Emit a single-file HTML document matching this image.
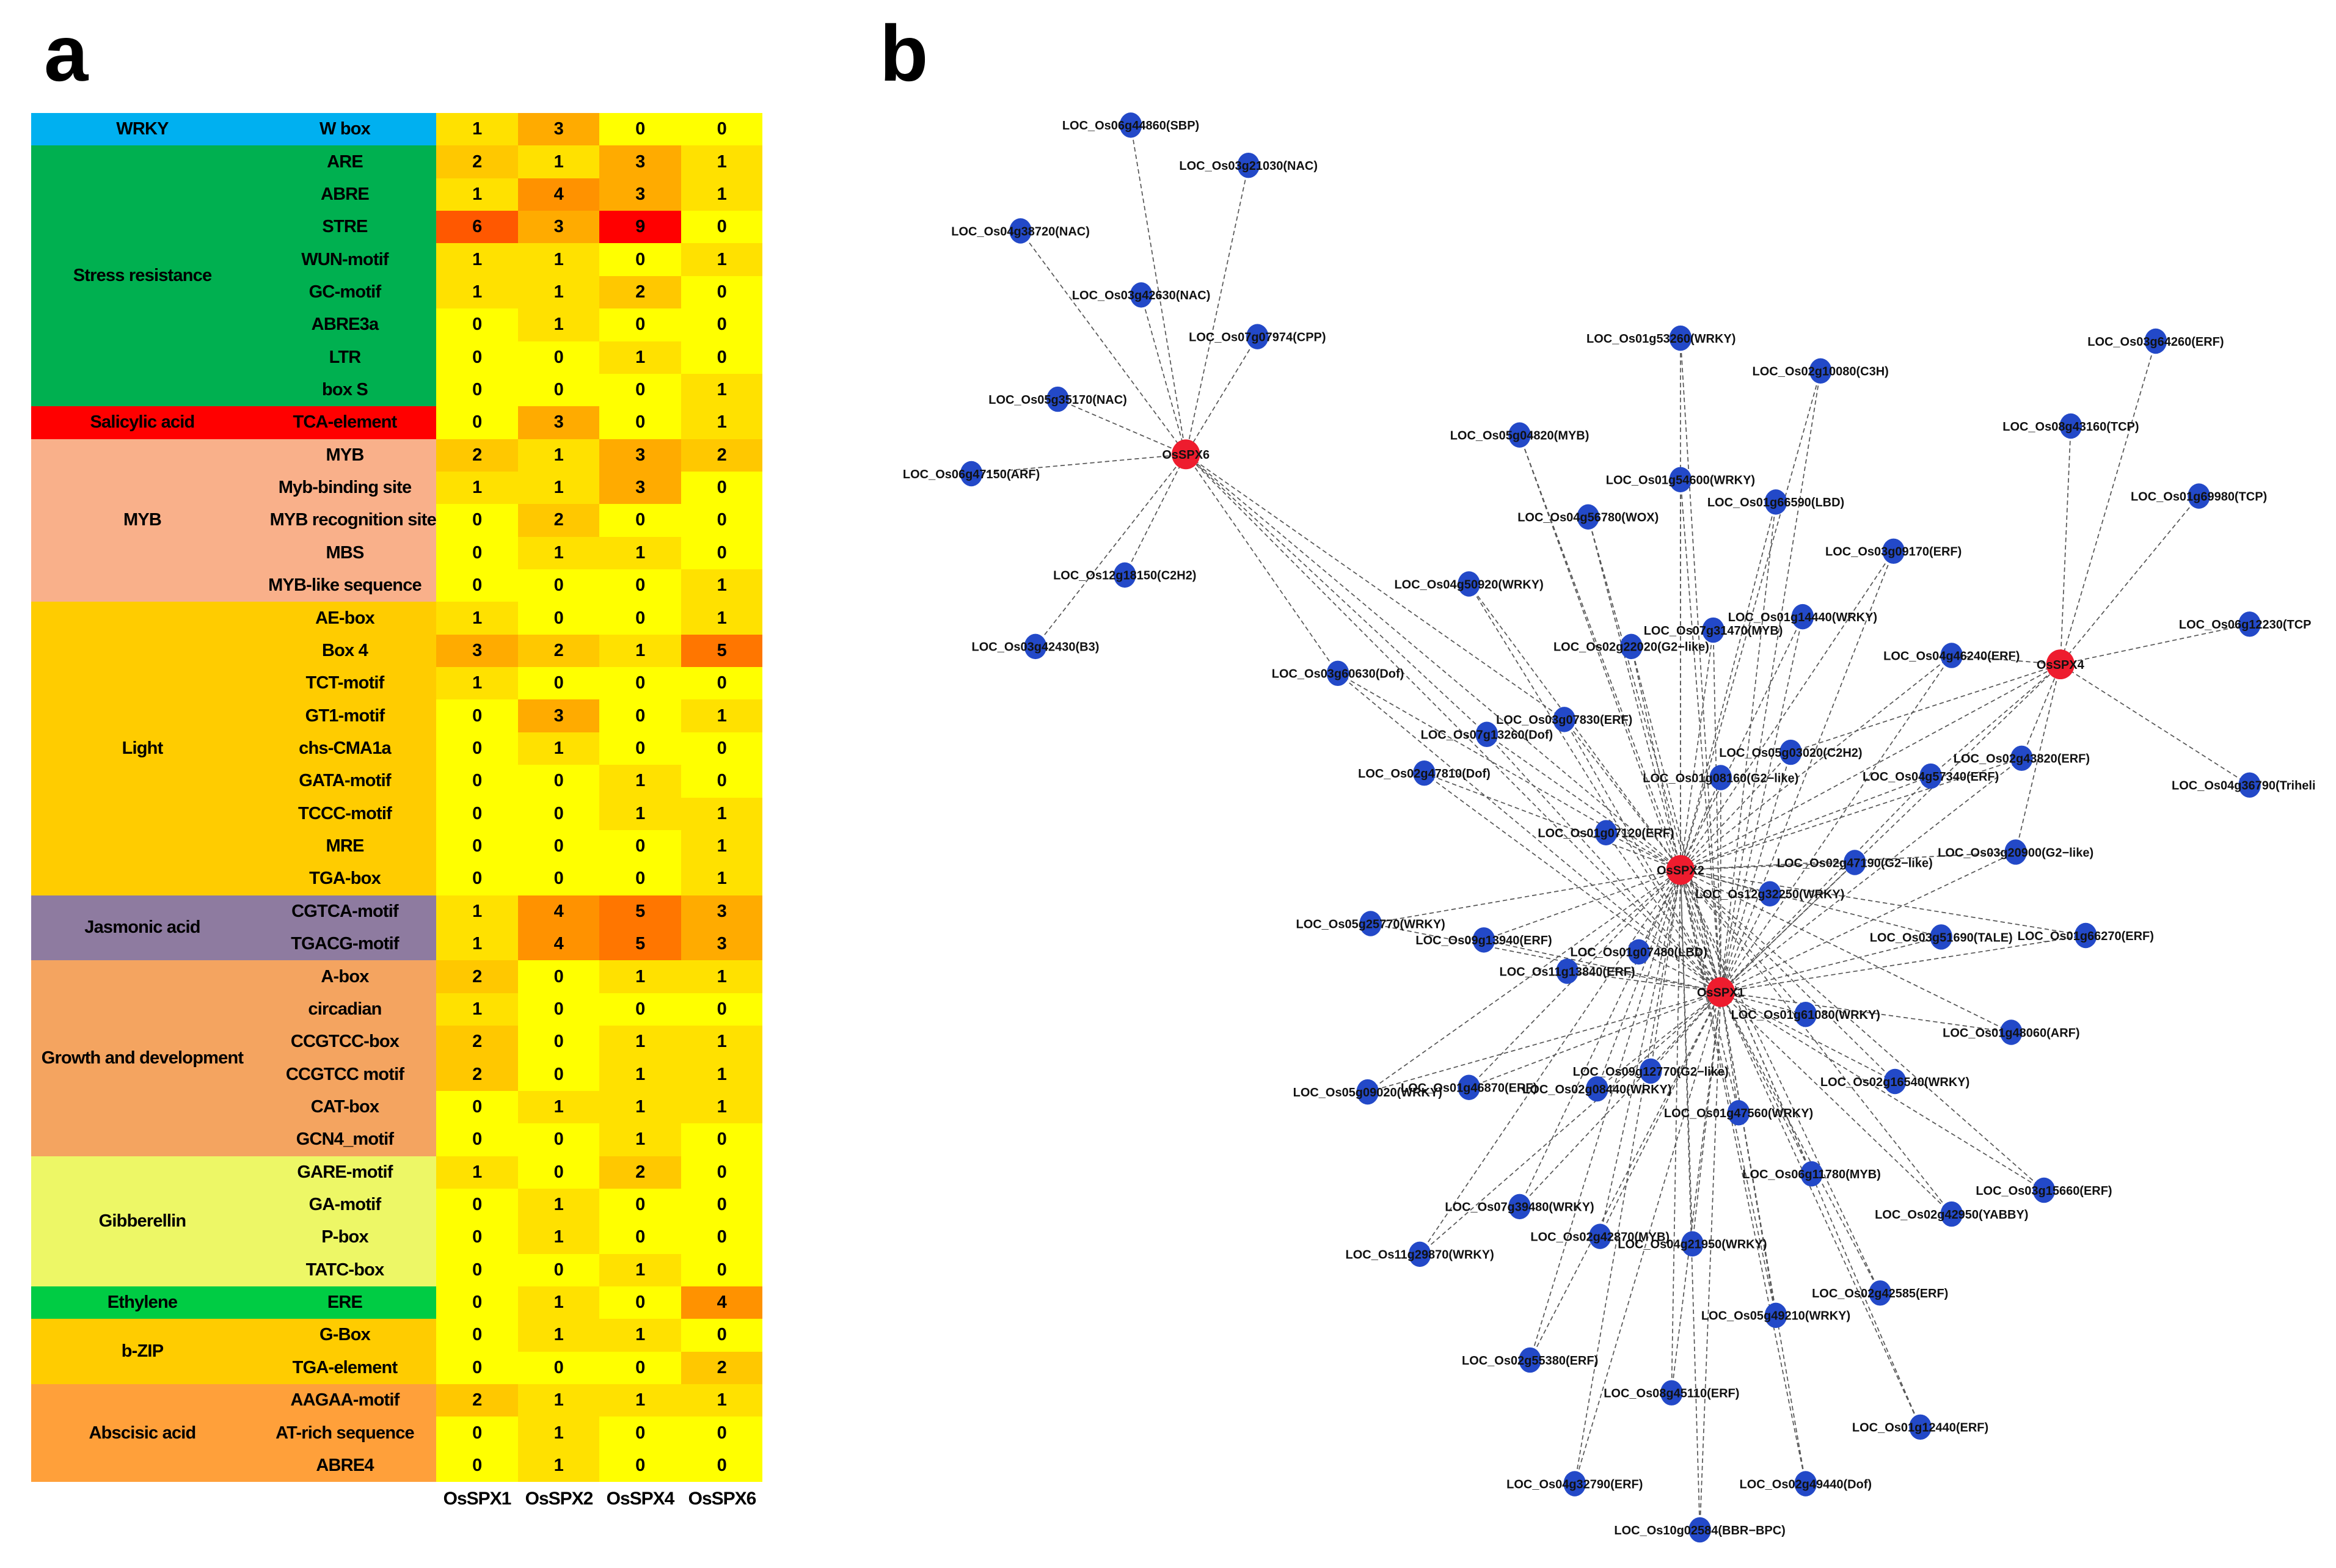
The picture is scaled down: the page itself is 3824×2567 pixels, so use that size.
<!DOCTYPE html>
<html><head><meta charset="utf-8"><style>
html,body{margin:0;padding:0;background:#fff}
body{width:3824px;height:2567px;position:relative;overflow:hidden;font-family:"Liberation Sans Narrow","Liberation Sans",sans-serif}
.big{position:absolute;font-family:"Liberation Sans",sans-serif;font-weight:bold;font-size:130px;line-height:1}
table{position:absolute;left:51px;top:185px;width:1197px;border-collapse:collapse;table-layout:fixed;font-weight:bold;font-size:29px;letter-spacing:-0.8px;color:#000}
td{height:53.37px;padding:0;text-align:center;white-space:nowrap;overflow:hidden;line-height:1}
.v0{background:#FFFF00}.v1{background:#FFE100}.v2{background:#FFC800}.v3{background:#FFAB00}.v4{background:#FF9200}.v5{background:#FF7600}.v6{background:#FF5800}.v9{background:#FF0000}
.wr{background:#00B0F0}.st{background:#00B050}.sa{background:#FF0000}.my{background:#F9B08A}.li{background:#FFCC00}.ja{background:#8E7BA0}.gr{background:#F4A460}.gi{background:#EDF766}.et{background:#00CC44}.bz{background:#FFCC00}.ab{background:#FFA03A}
.foot{position:absolute;top:2437px;font-weight:bold;font-size:30px;letter-spacing:-1px;width:134px;text-align:center}
svg{position:absolute;left:0;top:0}
</style></head><body>
<div class="big" style="left:72px;top:22px">a</div>
<div class="big" style="left:1440px;top:22px">b</div>
<table>
<colgroup><col style="width:364px"><col style="width:299px"><col style="width:133.5px"><col style="width:133.5px"><col style="width:133.5px"><col style="width:133.5px"></colgroup>
<tr><td class="wr">WRKY</td><td class="wr">W box</td><td class="v1">1</td><td class="v3">3</td><td class="v0">0</td><td class="v0">0</td></tr>
<tr><td class="st" rowspan="8">Stress resistance</td><td class="st">ARE</td><td class="v2">2</td><td class="v1">1</td><td class="v3">3</td><td class="v1">1</td></tr>
<tr><td class="st">ABRE</td><td class="v1">1</td><td class="v4">4</td><td class="v3">3</td><td class="v1">1</td></tr>
<tr><td class="st">STRE</td><td class="v6">6</td><td class="v3">3</td><td class="v9">9</td><td class="v0">0</td></tr>
<tr><td class="st">WUN-motif</td><td class="v1">1</td><td class="v1">1</td><td class="v0">0</td><td class="v1">1</td></tr>
<tr><td class="st">GC-motif</td><td class="v1">1</td><td class="v1">1</td><td class="v2">2</td><td class="v0">0</td></tr>
<tr><td class="st">ABRE3a</td><td class="v0">0</td><td class="v1">1</td><td class="v0">0</td><td class="v0">0</td></tr>
<tr><td class="st">LTR</td><td class="v0">0</td><td class="v0">0</td><td class="v1">1</td><td class="v0">0</td></tr>
<tr><td class="st">box S</td><td class="v0">0</td><td class="v0">0</td><td class="v0">0</td><td class="v1">1</td></tr>
<tr><td class="sa">Salicylic acid</td><td class="sa">TCA-element</td><td class="v0">0</td><td class="v3">3</td><td class="v0">0</td><td class="v1">1</td></tr>
<tr><td class="my" rowspan="5">MYB</td><td class="my">MYB</td><td class="v2">2</td><td class="v1">1</td><td class="v3">3</td><td class="v2">2</td></tr>
<tr><td class="my">Myb-binding site</td><td class="v1">1</td><td class="v1">1</td><td class="v3">3</td><td class="v0">0</td></tr>
<tr><td class="my" style="text-align:right">MYB recognition site</td><td class="v0">0</td><td class="v2">2</td><td class="v0">0</td><td class="v0">0</td></tr>
<tr><td class="my">MBS</td><td class="v0">0</td><td class="v1">1</td><td class="v1">1</td><td class="v0">0</td></tr>
<tr><td class="my">MYB-like sequence</td><td class="v0">0</td><td class="v0">0</td><td class="v0">0</td><td class="v1">1</td></tr>
<tr><td class="li" rowspan="9">Light</td><td class="li">AE-box</td><td class="v1">1</td><td class="v0">0</td><td class="v0">0</td><td class="v1">1</td></tr>
<tr><td class="li">Box 4</td><td class="v3">3</td><td class="v2">2</td><td class="v1">1</td><td class="v5">5</td></tr>
<tr><td class="li">TCT-motif</td><td class="v1">1</td><td class="v0">0</td><td class="v0">0</td><td class="v0">0</td></tr>
<tr><td class="li">GT1-motif</td><td class="v0">0</td><td class="v3">3</td><td class="v0">0</td><td class="v1">1</td></tr>
<tr><td class="li">chs-CMA1a</td><td class="v0">0</td><td class="v1">1</td><td class="v0">0</td><td class="v0">0</td></tr>
<tr><td class="li">GATA-motif</td><td class="v0">0</td><td class="v0">0</td><td class="v1">1</td><td class="v0">0</td></tr>
<tr><td class="li">TCCC-motif</td><td class="v0">0</td><td class="v0">0</td><td class="v1">1</td><td class="v1">1</td></tr>
<tr><td class="li">MRE</td><td class="v0">0</td><td class="v0">0</td><td class="v0">0</td><td class="v1">1</td></tr>
<tr><td class="li">TGA-box</td><td class="v0">0</td><td class="v0">0</td><td class="v0">0</td><td class="v1">1</td></tr>
<tr><td class="ja" rowspan="2">Jasmonic acid</td><td class="ja">CGTCA-motif</td><td class="v1">1</td><td class="v4">4</td><td class="v5">5</td><td class="v3">3</td></tr>
<tr><td class="ja">TGACG-motif</td><td class="v1">1</td><td class="v4">4</td><td class="v5">5</td><td class="v3">3</td></tr>
<tr><td class="gr" rowspan="6">Growth and development</td><td class="gr">A-box</td><td class="v2">2</td><td class="v0">0</td><td class="v1">1</td><td class="v1">1</td></tr>
<tr><td class="gr">circadian</td><td class="v1">1</td><td class="v0">0</td><td class="v0">0</td><td class="v0">0</td></tr>
<tr><td class="gr">CCGTCC-box</td><td class="v2">2</td><td class="v0">0</td><td class="v1">1</td><td class="v1">1</td></tr>
<tr><td class="gr">CCGTCC motif</td><td class="v2">2</td><td class="v0">0</td><td class="v1">1</td><td class="v1">1</td></tr>
<tr><td class="gr">CAT-box</td><td class="v0">0</td><td class="v1">1</td><td class="v1">1</td><td class="v1">1</td></tr>
<tr><td class="gr">GCN4_motif</td><td class="v0">0</td><td class="v0">0</td><td class="v1">1</td><td class="v0">0</td></tr>
<tr><td class="gi" rowspan="4">Gibberellin</td><td class="gi">GARE-motif</td><td class="v1">1</td><td class="v0">0</td><td class="v2">2</td><td class="v0">0</td></tr>
<tr><td class="gi">GA-motif</td><td class="v0">0</td><td class="v1">1</td><td class="v0">0</td><td class="v0">0</td></tr>
<tr><td class="gi">P-box</td><td class="v0">0</td><td class="v1">1</td><td class="v0">0</td><td class="v0">0</td></tr>
<tr><td class="gi">TATC-box</td><td class="v0">0</td><td class="v0">0</td><td class="v1">1</td><td class="v0">0</td></tr>
<tr><td class="et">Ethylene</td><td class="et">ERE</td><td class="v0">0</td><td class="v1">1</td><td class="v0">0</td><td class="v4">4</td></tr>
<tr><td class="bz" rowspan="2">b-ZIP</td><td class="bz">G-Box</td><td class="v0">0</td><td class="v1">1</td><td class="v1">1</td><td class="v0">0</td></tr>
<tr><td class="bz">TGA-element</td><td class="v0">0</td><td class="v0">0</td><td class="v0">0</td><td class="v2">2</td></tr>
<tr><td class="ab" rowspan="3">Abscisic acid</td><td class="ab">AAGAA-motif</td><td class="v2">2</td><td class="v1">1</td><td class="v1">1</td><td class="v1">1</td></tr>
<tr><td class="ab">AT-rich sequence</td><td class="v0">0</td><td class="v1">1</td><td class="v0">0</td><td class="v0">0</td></tr>
<tr><td class="ab">ABRE4</td><td class="v0">0</td><td class="v1">1</td><td class="v0">0</td><td class="v0">0</td></tr>
</table>
<div class="foot" style="left:714px">OsSPX1</div>
<div class="foot" style="left:848px">OsSPX2</div>
<div class="foot" style="left:981px">OsSPX4</div>
<div class="foot" style="left:1115px">OsSPX6</div>

<svg width="3824" height="2567" viewBox="0 0 1568 1052.6" xmlns="http://www.w3.org/2000/svg">
<g id="edges" stroke="#555" stroke-width="0.7" stroke-dasharray="3,2" fill="none"></g>
<g id="nodes" font-family="Liberation Sans Narrow, Liberation Sans, sans-serif" font-weight="bold" font-size="8.2" text-anchor="middle" fill="#111">
<g class="n h6" transform="translate(759,84)"><ellipse rx="7.5" ry="8.5" fill="#2349C8"/><text y="3">LOC_Os06g44860(SBP)</text></g>
<g class="n h6" transform="translate(838,111)"><ellipse rx="7.5" ry="8.5" fill="#2349C8"/><text y="3">LOC_Os03g21030(NAC)</text></g>
<g class="n h6" transform="translate(685,155)"><ellipse rx="7.5" ry="8.5" fill="#2349C8"/><text y="3">LOC_Os04g38720(NAC)</text></g>
<g class="n h6" transform="translate(766,198)"><ellipse rx="7.5" ry="8.5" fill="#2349C8"/><text y="3">LOC_Os03g42630(NAC)</text></g>
<g class="n h6" transform="translate(844,226)"><ellipse rx="7.5" ry="8.5" fill="#2349C8"/><text y="3">LOC_Os07g07974(CPP)</text></g>
<g class="n h6" transform="translate(710,268)"><ellipse rx="7.5" ry="8.5" fill="#2349C8"/><text y="3">LOC_Os05g35170(NAC)</text></g>
<g class="n h6" transform="translate(652,318)"><ellipse rx="7.5" ry="8.5" fill="#2349C8"/><text y="3">LOC_Os06g47150(ARF)</text></g>
<g class="n h6" transform="translate(755,386)"><ellipse rx="7.5" ry="8.5" fill="#2349C8"/><text y="3">LOC_Os12g18150(C2H2)</text></g>
<g class="n h6" transform="translate(695,434)"><ellipse rx="7.5" ry="8.5" fill="#2349C8"/><text y="3">LOC_Os03g42430(B3)</text></g>
<g class="n h6 h2 h1" transform="translate(898,452)"><ellipse rx="7.5" ry="8.5" fill="#2349C8"/><text y="3">LOC_Os03g60630(Dof)</text></g>
<g class="n h2 h1" transform="translate(1128,227)"><ellipse rx="7.5" ry="8.5" fill="#2349C8"/><text x="-13" y="3">LOC_Os01g53260(WRKY)</text></g>
<g class="n h2 h1" transform="translate(1222,249)"><ellipse rx="7.5" ry="8.5" fill="#2349C8"/><text y="3">LOC_Os02g10080(C3H)</text></g>
<g class="n h4" transform="translate(1447,229)"><ellipse rx="7.5" ry="8.5" fill="#2349C8"/><text y="3">LOC_Os03g64260(ERF)</text></g>
<g class="n h4" transform="translate(1390,286)"><ellipse rx="7.5" ry="8.5" fill="#2349C8"/><text y="3">LOC_Os08g43160(TCP)</text></g>
<g class="n h2 h1" transform="translate(1020,292)"><ellipse rx="7.5" ry="8.5" fill="#2349C8"/><text y="3">LOC_Os05g04820(MYB)</text></g>
<g class="n h2 h1" transform="translate(1128,322)"><ellipse rx="7.5" ry="8.5" fill="#2349C8"/><text y="3">LOC_Os01g54600(WRKY)</text></g>
<g class="n h2 h1" transform="translate(1192,337)"><ellipse rx="7.5" ry="8.5" fill="#2349C8"/><text y="3">LOC_Os01g66590(LBD)</text></g>
<g class="n h4" transform="translate(1476,333)"><ellipse rx="7.5" ry="8.5" fill="#2349C8"/><text y="3">LOC_Os01g69980(TCP)</text></g>
<g class="n h2 h1" transform="translate(1066,347)"><ellipse rx="7.5" ry="8.5" fill="#2349C8"/><text y="3">LOC_Os04g56780(WOX)</text></g>
<g class="n h2 h1" transform="translate(1271,370)"><ellipse rx="7.5" ry="8.5" fill="#2349C8"/><text y="3">LOC_Os03g09170(ERF)</text></g>
<g class="n h2 h1" transform="translate(986,392)"><ellipse rx="7.5" ry="8.5" fill="#2349C8"/><text y="3">LOC_Os04g50920(WRKY)</text></g>
<g class="n h2 h1" transform="translate(1150,423)"><ellipse rx="7.5" ry="8.5" fill="#2349C8"/><text y="3">LOC_Os07g31470(MYB)</text></g>
<g class="n h2 h1" transform="translate(1210,414)"><ellipse rx="7.5" ry="8.5" fill="#2349C8"/><text y="3">LOC_Os01g14440(WRKY)</text></g>
<g class="n h2 h1" transform="translate(1095,434)"><ellipse rx="7.5" ry="8.5" fill="#2349C8"/><text y="3">LOC_Os02g22020(G2−like)</text></g>
<g class="n h4" transform="translate(1510,419)"><ellipse rx="7.5" ry="8.5" fill="#2349C8"/><text x="-3" y="3">LOC_Os06g12230(TCP</text></g>
<g class="n h4 h2 h1" transform="translate(1310,440)"><ellipse rx="7.5" ry="8.5" fill="#2349C8"/><text y="3">LOC_Os04g46240(ERF)</text></g>
<g class="n h2 h1 h6" transform="translate(1050,483)"><ellipse rx="7.5" ry="8.5" fill="#2349C8"/><text y="3">LOC_Os03g07830(ERF)</text></g>
<g class="n h2 h1 h6" transform="translate(998,493)"><ellipse rx="7.5" ry="8.5" fill="#2349C8"/><text y="3">LOC_Os07g13260(Dof)</text></g>
<g class="n h4 h2 h1" transform="translate(1202,505)"><ellipse rx="7.5" ry="8.5" fill="#2349C8"/><text y="3">LOC_Os05g03020(C2H2)</text></g>
<g class="n h4 h2 h1" transform="translate(1357,509)"><ellipse rx="7.5" ry="8.5" fill="#2349C8"/><text y="3">LOC_Os02g43820(ERF)</text></g>
<g class="n h4" transform="translate(1510,527)"><ellipse rx="7.5" ry="8.5" fill="#2349C8"/><text x="-4" y="3">LOC_Os04g36790(Triheli</text></g>
<g class="n h2 h1" transform="translate(956,519)"><ellipse rx="7.5" ry="8.5" fill="#2349C8"/><text y="3">LOC_Os02g47810(Dof)</text></g>
<g class="n h2 h1" transform="translate(1155,522)"><ellipse rx="7.5" ry="8.5" fill="#2349C8"/><text y="3">LOC_Os01g08160(G2−like)</text></g>
<g class="n h4 h2 h1" transform="translate(1296,521)"><ellipse rx="7.5" ry="8.5" fill="#2349C8"/><text y="3">LOC_Os04g57340(ERF)</text></g>
<g class="n h2 h1" transform="translate(1078,559)"><ellipse rx="7.5" ry="8.5" fill="#2349C8"/><text y="3">LOC_Os01g07120(ERF)</text></g>
<g class="n h4 h2 h1" transform="translate(1353,572)"><ellipse rx="7.5" ry="8.5" fill="#2349C8"/><text y="3">LOC_Os03g20900(G2−like)</text></g>
<g class="n h2 h1" transform="translate(1245,579)"><ellipse rx="7.5" ry="8.5" fill="#2349C8"/><text y="3">LOC_Os02g47190(G2−like)</text></g>
<g class="n h2 h1" transform="translate(1188,600)"><ellipse rx="7.5" ry="8.5" fill="#2349C8"/><text y="3">LOC_Os12g32250(WRKY)</text></g>
<g class="n h2 h1" transform="translate(920,620)"><ellipse rx="7.5" ry="8.5" fill="#2349C8"/><text y="3">LOC_Os05g25770(WRKY)</text></g>
<g class="n h2 h1" transform="translate(1303,629)"><ellipse rx="7.5" ry="8.5" fill="#2349C8"/><text y="3">LOC_Os03g51690(TALE)</text></g>
<g class="n h2 h1" transform="translate(1400,628)"><ellipse rx="7.5" ry="8.5" fill="#2349C8"/><text y="3">LOC_Os01g66270(ERF)</text></g>
<g class="n h2 h1" transform="translate(996,631)"><ellipse rx="7.5" ry="8.5" fill="#2349C8"/><text y="3">LOC_Os09g13940(ERF)</text></g>
<g class="n h2 h1" transform="translate(1100,639)"><ellipse rx="7.5" ry="8.5" fill="#2349C8"/><text y="3">LOC_Os01g07480(LBD)</text></g>
<g class="n h2 h1" transform="translate(1052,652)"><ellipse rx="7.5" ry="8.5" fill="#2349C8"/><text y="3">LOC_Os11g13840(ERF)</text></g>
<g class="n h2 h1" transform="translate(1212,681)"><ellipse rx="7.5" ry="8.5" fill="#2349C8"/><text y="3">LOC_Os01g61080(WRKY)</text></g>
<g class="n h2 h1" transform="translate(1350,693)"><ellipse rx="7.5" ry="8.5" fill="#2349C8"/><text y="3">LOC_Os01g48060(ARF)</text></g>
<g class="n h2 h1" transform="translate(986,730)"><ellipse rx="7.5" ry="8.5" fill="#2349C8"/><text y="3">LOC_Os01g46870(ERF)</text></g>
<g class="n h2 h1" transform="translate(918,733)"><ellipse rx="7.5" ry="8.5" fill="#2349C8"/><text y="3">LOC_Os05g09020(WRKY)</text></g>
<g class="n h2 h1" transform="translate(1108,719)"><ellipse rx="7.5" ry="8.5" fill="#2349C8"/><text y="3">LOC_Os09g12770(G2−like)</text></g>
<g class="n h2 h1" transform="translate(1072,731)"><ellipse rx="7.5" ry="8.5" fill="#2349C8"/><text y="3">LOC_Os02g08440(WRKY)</text></g>
<g class="n h2 h1" transform="translate(1272,726)"><ellipse rx="7.5" ry="8.5" fill="#2349C8"/><text y="3">LOC_Os02g16540(WRKY)</text></g>
<g class="n h2 h1" transform="translate(1167,747)"><ellipse rx="7.5" ry="8.5" fill="#2349C8"/><text y="3">LOC_Os01g47560(WRKY)</text></g>
<g class="n h2 h1" transform="translate(1216,788)"><ellipse rx="7.5" ry="8.5" fill="#2349C8"/><text y="3">LOC_Os06g11780(MYB)</text></g>
<g class="n h2 h1" transform="translate(1372,799)"><ellipse rx="7.5" ry="8.5" fill="#2349C8"/><text y="3">LOC_Os03g15660(ERF)</text></g>
<g class="n h2 h1" transform="translate(1310,815)"><ellipse rx="7.5" ry="8.5" fill="#2349C8"/><text y="3">LOC_Os02g42950(YABBY)</text></g>
<g class="n h2 h1" transform="translate(1020,810)"><ellipse rx="7.5" ry="8.5" fill="#2349C8"/><text y="3">LOC_Os07g39480(WRKY)</text></g>
<g class="n h2 h1" transform="translate(1074,830)"><ellipse rx="7.5" ry="8.5" fill="#2349C8"/><text y="3">LOC_Os02g42870(MYB)</text></g>
<g class="n h2 h1" transform="translate(1136,835)"><ellipse rx="7.5" ry="8.5" fill="#2349C8"/><text y="3">LOC_Os04g21950(WRKY)</text></g>
<g class="n h2 h1" transform="translate(953,842)"><ellipse rx="7.5" ry="8.5" fill="#2349C8"/><text y="3">LOC_Os11g29870(WRKY)</text></g>
<g class="n h2 h1" transform="translate(1262,868)"><ellipse rx="7.5" ry="8.5" fill="#2349C8"/><text y="3">LOC_Os02g42585(ERF)</text></g>
<g class="n h2 h1" transform="translate(1192,883)"><ellipse rx="7.5" ry="8.5" fill="#2349C8"/><text y="3">LOC_Os05g49210(WRKY)</text></g>
<g class="n h2 h1" transform="translate(1027,913)"><ellipse rx="7.5" ry="8.5" fill="#2349C8"/><text y="3">LOC_Os02g55380(ERF)</text></g>
<g class="n h2 h1" transform="translate(1122,935)"><ellipse rx="7.5" ry="8.5" fill="#2349C8"/><text y="3">LOC_Os08g45110(ERF)</text></g>
<g class="n h2 h1" transform="translate(1289,958)"><ellipse rx="7.5" ry="8.5" fill="#2349C8"/><text y="3">LOC_Os01g12440(ERF)</text></g>
<g class="n h2 h1" transform="translate(1057,996)"><ellipse rx="7.5" ry="8.5" fill="#2349C8"/><text y="3">LOC_Os04g32790(ERF)</text></g>
<g class="n h2 h1" transform="translate(1212,996)"><ellipse rx="7.5" ry="8.5" fill="#2349C8"/><text y="3">LOC_Os02g49440(Dof)</text></g>
<g class="n h2 h1" transform="translate(1141,1027)"><ellipse rx="7.5" ry="8.5" fill="#2349C8"/><text y="3">LOC_Os10g02584(BBR−BPC)</text></g>
<g transform="translate(796,305)"><ellipse rx="9.5" ry="10" fill="#EE1C2E"/><text y="3">OsSPX6</text></g>
<g transform="translate(1383,446)"><ellipse rx="9.5" ry="10" fill="#EE1C2E"/><text y="3">OsSPX4</text></g>
<g transform="translate(1128,584)"><ellipse rx="9.5" ry="10" fill="#EE1C2E"/><text y="3">OsSPX2</text></g>
<g transform="translate(1155,666)"><ellipse rx="9.5" ry="10" fill="#EE1C2E"/><text y="3">OsSPX1</text></g>
</g>
</svg>
<script>
(function(){
var H={h6:[796,305],h4:[1383,446],h2:[1128,584],h1:[1155,666]};
var E=document.getElementById('edges'),NS='http://www.w3.org/2000/svg';
function L(a,b){var l=document.createElementNS(NS,'line');l.setAttribute('x1',a[0]);l.setAttribute('y1',a[1]);l.setAttribute('x2',b[0]);l.setAttribute('y2',b[1]);E.appendChild(l);}
var ns=document.querySelectorAll('g.n');
for(var i=0;i<ns.length;i++){var g=ns[i];var m=/translate\(([\d.]+),([\d.]+)\)/.exec(g.getAttribute('transform'));var p=[+m[1],+m[2]];
for(var k in H){if(g.classList.contains(k))L(p,H[k]);}}
L(H.h6,H.h2);L(H.h6,H.h1);L(H.h4,H.h2);L(H.h4,H.h1);L(H.h2,H.h1);
})();
</script>
</body></html>
